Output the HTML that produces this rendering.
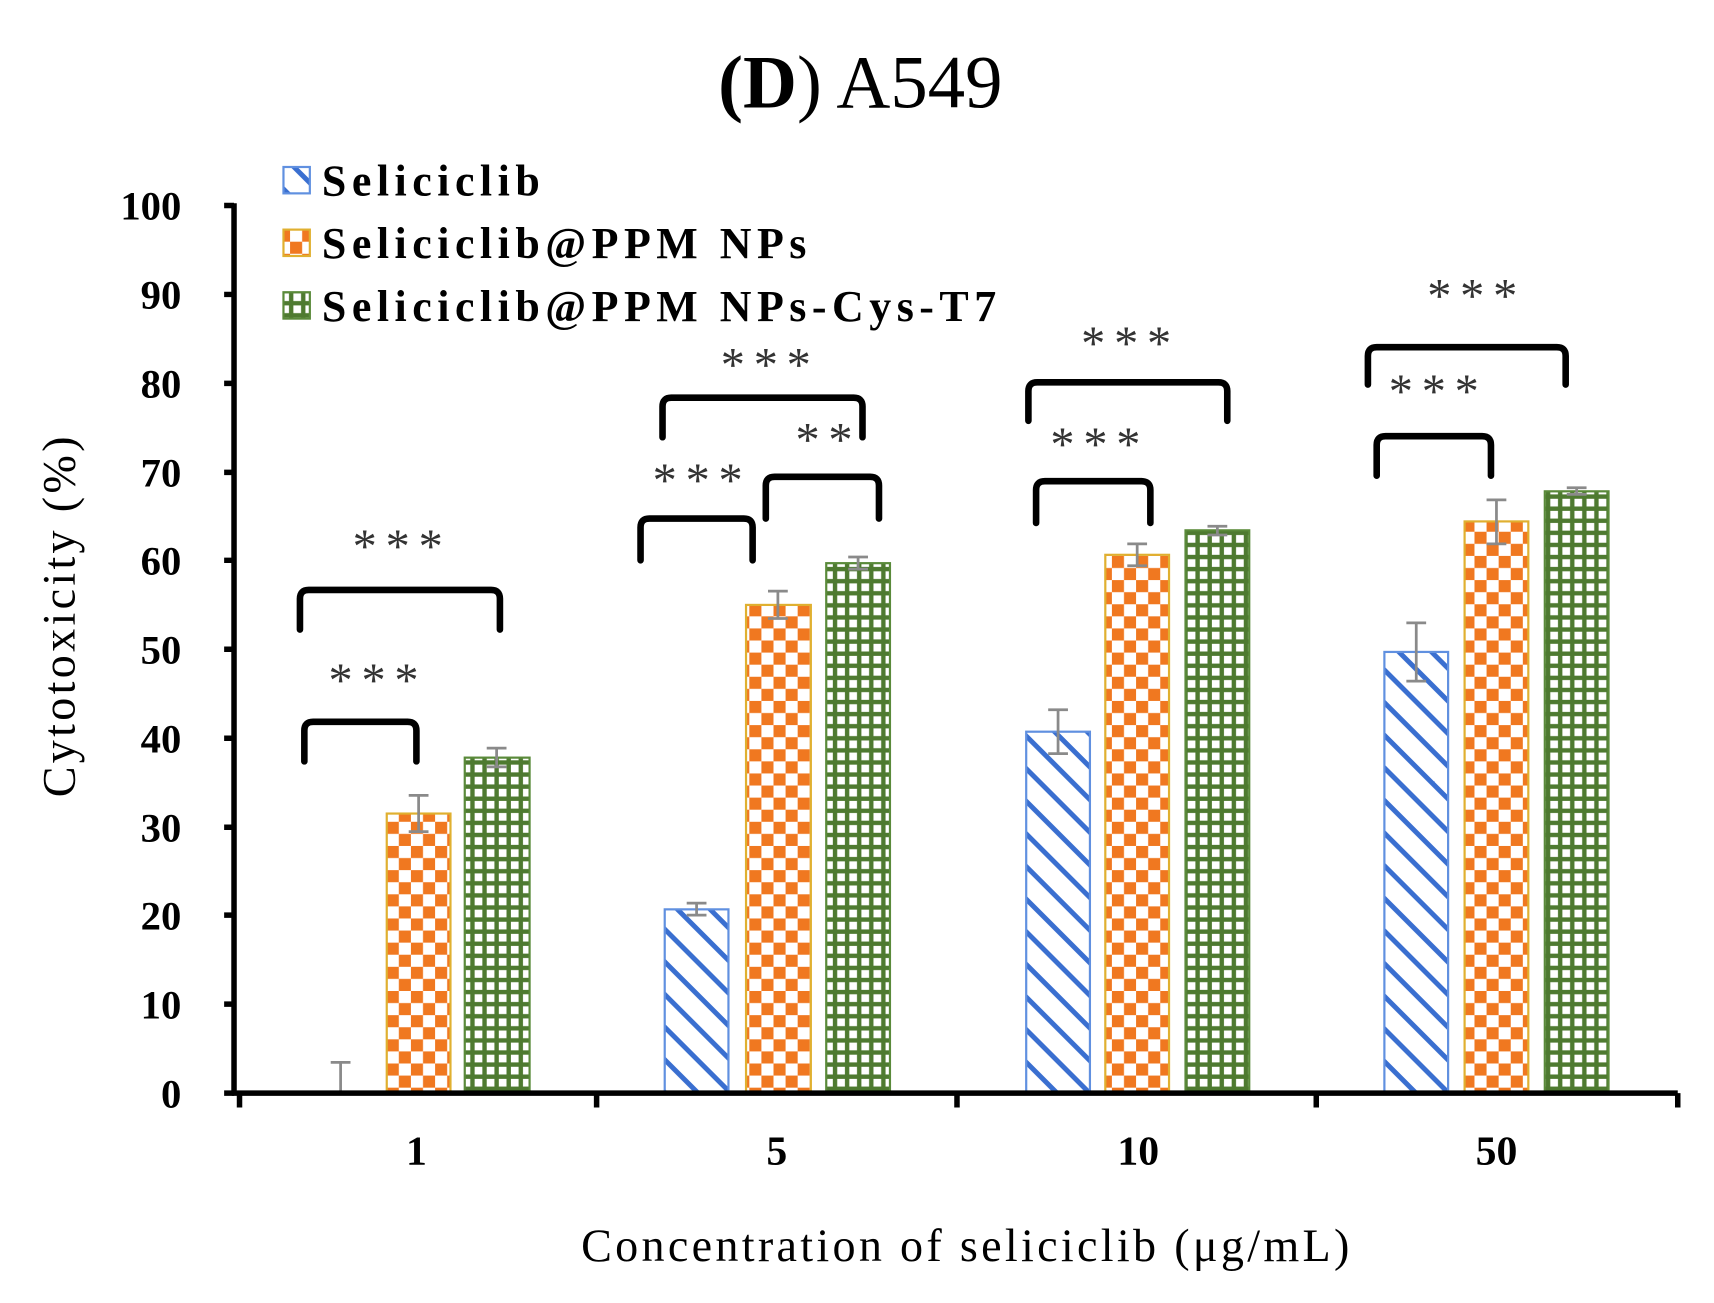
<!DOCTYPE html>
<html><head><meta charset="utf-8"><style>
html,body{margin:0;padding:0;background:#fff;}
svg{display:block;}
text{font-family:"Liberation Serif",serif;}
</style></head><body>
<svg width="1714" height="1303" viewBox="0 0 1560 1186" preserveAspectRatio="none" xmlns="http://www.w3.org/2000/svg">
<defs>
<pattern id="pb" width="21" height="21" patternUnits="userSpaceOnUse" patternTransform="rotate(45)">
<rect width="21" height="21" fill="#fff"/><rect x="0" y="0" width="21" height="4.5" fill="#3a6fd0"/>
</pattern>
<pattern id="po" width="22" height="22" patternUnits="userSpaceOnUse" x="352" y="0">
<rect width="22" height="22" fill="#fff"/><rect x="0" y="0" width="11" height="11" fill="#f07820"/><rect x="11" y="11" width="11" height="11" fill="#f07820"/>
</pattern>
<pattern id="pg" width="11" height="11" patternUnits="userSpaceOnUse">
<rect width="11" height="11" fill="#4e7a30"/><rect x="3" y="3" width="7" height="7" fill="#fff"/>
</pattern>
</defs>
<text x="783" y="98" font-size="68" text-anchor="middle"><tspan font-weight="bold">(D</tspan>) A549</text>

<g stroke-width="2">
<rect x="352" y="740.5" width="58" height="254.5" fill="url(#po)" stroke="#e0b030"/>
<rect x="423" y="689.6" width="59" height="305.4" fill="url(#pg)" stroke="#5a8a3a"/>
<rect x="605" y="827.7" width="58" height="167.3" fill="url(#pb)" stroke="#6090e0"/>
<rect x="679" y="550.6" width="59" height="444.4" fill="url(#po)" stroke="#e0b030"/>
<rect x="752" y="512.6" width="58" height="482.4" fill="url(#pg)" stroke="#5a8a3a"/>
<rect x="934" y="666" width="58" height="329" fill="url(#pb)" stroke="#6090e0"/>
<rect x="1006" y="505" width="58" height="490" fill="url(#po)" stroke="#e0b030"/>
<rect x="1079" y="482.7" width="58" height="512.3" fill="url(#pg)" stroke="#5a8a3a"/>
<rect x="1260" y="593.4" width="58" height="401.6" fill="url(#pb)" stroke="#6090e0"/>
<rect x="1333" y="474.6" width="58" height="520.4" fill="url(#po)" stroke="#e0b030"/>
<rect x="1406" y="447.2" width="58" height="547.8" fill="url(#pg)" stroke="#5a8a3a"/>
</g>
<g stroke="#8a8a8a" stroke-width="2.5" fill="none">
<path d="M310 967V995M301 967H319"/>
<path d="M381 724V757M372 724H390M372 757H390"/>
<path d="M452 681V698M443 681H461M443 698H461"/>
<path d="M634 822V833M625 822H643M625 833H643"/>
<path d="M708 538V563M699 538H717M699 563H717"/>
<path d="M781 507V518M772 507H790M772 518H790"/>
<path d="M963 646V686M954 646H972M954 686H972"/>
<path d="M1035 495V515M1026 495H1044M1026 515H1044"/>
<path d="M1108 479V487M1099 479H1117M1099 487H1117"/>
<path d="M1289 567V620M1280 567H1298M1280 620H1298"/>
<path d="M1362 455V495M1353 455H1371M1353 495H1371"/>
<path d="M1435 444V450M1426 444H1444M1426 450H1444"/>
</g>

<g stroke="#000" stroke-width="5" fill="none">
<path d="M213 185V997M204 187H213M204 268H213M204 349H213M204 430H213M204 510H213M204 591H213M204 672H213M204 753H213M204 833H213M204 914H213M204 995H213"/>
<path d="M211 995H1527M218 995V1008M543 995V1008M871 995V1008M1198 995V1008M1527 995V1008"/>
</g>
<g font-size="37" font-weight="bold" text-anchor="end">
<text x="165" y="200">100</text><text x="165" y="281">90</text><text x="165" y="362">80</text><text x="165" y="443">70</text><text x="165" y="523">60</text><text x="165" y="604">50</text><text x="165" y="685">40</text><text x="165" y="766">30</text><text x="165" y="846">20</text><text x="165" y="927">10</text><text x="165" y="1008">0</text>
</g>
<g font-size="38" font-weight="bold" text-anchor="middle">
<text x="379" y="1060">1</text><text x="707" y="1060">5</text><text x="1036" y="1060">10</text><text x="1362" y="1060">50</text>
</g>
<text x="880" y="1148" font-size="42" text-anchor="middle" letter-spacing="3">Concentration of seliciclib (μg/mL)</text>
<text transform="translate(68,560) rotate(-90)" font-size="42" text-anchor="middle" letter-spacing="3">Cytotoxicity (%)</text>

<rect x="258" y="152" width="24" height="24" fill="url(#pb)" stroke="#6090e0" stroke-width="2"/>
<rect x="258" y="209" width="24" height="24" fill="url(#po)" stroke="#e0b030" stroke-width="2"/>
<rect x="258" y="266" width="24" height="24" fill="url(#pg)" stroke="#5a8a3a" stroke-width="2"/>
<g font-size="40" font-weight="bold" letter-spacing="5">
<text x="293" y="178">Seliciclib</text>
<text x="293" y="235">Seliciclib@PPM NPs</text>
<text x="293" y="292">Seliciclib@PPM NPs-Cys-T7</text>
</g>

<g stroke="#000" stroke-width="6" fill="none" stroke-linecap="round" stroke-linejoin="round">
<path d="M277 693V665Q277 657 285 657H371Q379 657 379 665V693"/>
<path d="M273 573V545Q273 537 281 537H447Q455 537 455 545V573"/>
<path d="M583 510V480Q583 472 591 472H677Q685 472 685 480V510"/>
<path d="M697 472V442Q697 434 705 434H792Q800 434 800 442V472"/>
<path d="M603 398V370Q603 362 611 362H777Q785 362 785 370V398"/>
<path d="M943 476V446Q943 438 951 438H1039Q1047 438 1047 446V476"/>
<path d="M936 383V356Q936 348 944 348H1109Q1117 348 1117 356V383"/>
<path d="M1253 433V405Q1253 397 1261 397H1349Q1357 397 1357 405V433"/>
<path d="M1245 350V324Q1245 316 1253 316H1417Q1425 316 1425 324V350"/>
</g>
<g font-size="44" fill="#333" text-anchor="middle" letter-spacing="8">
<text x="344" y="634">***</text>
<text x="366" y="512">***</text>
<text x="639" y="452">***</text>
<text x="754" y="415">**</text>
<text x="701" y="347">***</text>
<text x="1001" y="419">***</text>
<text x="1029" y="327">***</text>
<text x="1309" y="371">***</text>
<text x="1344" y="284">***</text>
</g>
</svg>
</body></html>
